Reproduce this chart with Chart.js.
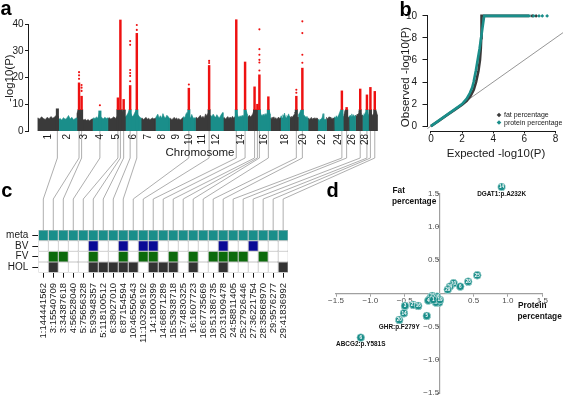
<!DOCTYPE html>
<html>
<head>
<meta charset="utf-8">
<script src="https://cdn.jsdelivr.net/npm/chart.js@4.4.1/dist/chart.umd.min.js"></script>
<style>
html,body{margin:0;padding:0;background:#ffffff;}
#wrap{position:relative;width:567px;height:399px;overflow:hidden;background:#fff;}
#wrap canvas{position:absolute;}
</style>
</head>
<body>
<div id="wrap">
<canvas id="conn" width="567" height="399" style="left:0px;top:0px;z-index:0;"></canvas>
<canvas id="ca" width="395" height="162" style="left:0px;top:0px;z-index:1;"></canvas>
<canvas id="cb" width="172" height="165" style="left:395px;top:0px;z-index:1;"></canvas>
<canvas id="cc" width="300" height="229" style="left:0px;top:170px;z-index:1;"></canvas>
<canvas id="cd" width="267" height="229" style="left:300px;top:170px;z-index:1;"></canvas>
</div>
<script>
const FONT = "'Liberation Sans', Arial, Helvetica, sans-serif";
Chart.defaults.font.family = FONT;
Chart.defaults.color = '#1a1a1a';
Chart.defaults.animation = false;
Chart.defaults.responsive = false;
Chart.defaults.maintainAspectRatio = false;
Chart.defaults.plugins.legend.display = false;
Chart.defaults.plugins.tooltip.enabled = false;
Chart.defaults.events = [];

const INK = '#1a1a1a';
const DARK = '#3a3a3a';
const TEAL = '#1a8e8a';
const RED = '#ee1111';
const BLUE = '#0a0a96';
const GREEN = '#0c6a0c';
const HOLC = '#333333';

/* ---------------- panel a : Manhattan ---------------- */
const chrLengthMb = [152,137,113,114,128,117,106,105,97,93,106,100,96,83,88,81,76,66,64,72,72,64,57,66,44,48,50,52,60];
const chrTickLabels = ['1','2','3','4','5','6','7','8','9','10','11','12','14','16','18','20','22','24','26','28'];
const chrProfile = [
 [4.9,4.5,5.3,4.7,4.3,5.1,4.6,5.4,4.8,5.2,6.0,5.4],
 [4.2,4.7,4.1,5.0,4.4,4.8,5.8,4.5,5.1,4.2,4.7,4.9],
 [6.5,8.0,7.6,5.5,4.5,4.1,4.4,3.9,4.3,3.8,4.2,4.5],
 [4.5,4.9,4.7,5.2,4.8,6.6,5.4,4.9,4.6,5.1,4.7,4.9],
 [4.6,5.0,4.5,4.9,5.3,4.7,5.5,6.4,7.6,7.8,6.5,7.9],
 [5.1,5.7,6.6,7.8,6.7,5.4,5.9,7.1,7.8,6.1,5.3,4.9],
 [4.5,4.9,4.3,4.7,5.1,4.4,4.8,4.2,4.6,4.9,4.5,4.7],
 [4.7,5.5,6.3,4.9,5.7,4.8,6.5,5.2,4.9,5.9,5.4,4.8],
 [4.4,4.8,4.2,4.6,5.1,4.5,4.9,4.3,4.7,4.1,4.5,4.9],
 [4.8,5.4,5.0,6.4,7.0,6.1,5.3,4.9,6.2,5.1,4.7,5.0],
 [4.6,5.1,4.7,5.3,5.9,4.9,5.5,4.8,6.4,5.7,6.7,7.4],
 [5.2,5.9,5.4,6.3,5.5,5.1,6.1,5.3,4.9,5.7,6.5,6.9],
 [4.7,5.1,4.5,4.9,5.4,4.7,5.2,4.8,5.5,4.9,5.3,5.0],
 [7.8,6.4,5.5,5.1,5.7,5.3,5.9,5.4,6.1,7.3,7.6,6.3],
 [4.9,5.5,5.9,5.2,5.7,6.4,7.5,6.1,6.7,7.6,5.5,5.1],
 [7.8,6.9,6.1,5.7,6.3,5.8,6.5,5.9,6.7,7.1,7.7,6.4],
 [4.9,4.5,5.1,4.7,5.3,4.6,5.0,4.4,4.8,5.2,4.7,4.9],
 [5.1,5.7,4.9,6.1,5.4,6.7,5.5,5.0,5.8,5.2,6.4,5.6],
 [4.9,5.3,4.7,5.5,5.1,5.7,6.2,7.1,6.4,5.4,4.9,5.2],
 [5.5,6.1,6.9,7.8,6.9,6.3,5.7,5.9,5.4,5.1,5.5,4.9],
 [4.5,4.9,4.3,4.7,5.1,4.4,4.8,4.6,5.0,4.5,4.9,4.7],
 [4.1,4.4,3.9,4.5,4.2,4.7,5.1,6.5,4.9,4.3,4.5,4.2],
 [4.7,5.1,4.5,4.9,5.3,4.8,5.2,4.6,5.0,4.4,4.8,4.9],
 [4.8,5.3,4.9,5.7,5.1,5.5,6.1,6.9,7.7,6.4,5.5,5.1],
 [4.9,5.5,6.1,6.7,7.7,5.9,5.3,5.7,5.1,5.4,4.9,5.2],
 [5.1,5.7,5.3,5.9,5.5,6.4,5.7,5.2,6.1,5.5,5.3,5.8],
 [5.3,5.9,5.5,6.3,5.7,6.5,7.3,7.7,6.7,6.1,5.5,5.9],
 [5.5,6.1,5.7,6.5,5.9,6.9,6.3,7.7,6.9,6.1,5.7,6.3],
 [5.9,7.3,7.7,6.5,6.1,5.7,6.3,6.9,6.5,7.7,7.1,6.1]
];
const snpLabels = ['1:144441562','3:15540709','3:34387618','4:56528040','5:75656328','5:93948357','5:118100512','6:38027010','6:87154594','10:46550543','11:103296192','14:1800399','14:66871289','15:53938718','15:74830325','16:1607723','16:67735669','19:51386735','20:31909478','24:58811405','25:27926446','27:36221754','28:35868970','29:9576277','29:41836992'];
const snpBaseTop = [8.3,8,8,7.5,8,8,8,8,8,8,8,8,8,8,8,8,8,8,8,8,8,8,8,8,8];
const snpPeakTop = [0,18,13,0,12.4,41.5,11.8,17,36.5,16,24.5,41.6,25.8,16.5,10,21,12.8,13,23.5,15,8.8,15.7,13.5,16.3,14.8];
const sparseSnp  = [1,1,1,2,2,2,3,7,7,7,7,7,7,8,8,9,10,10,15,15,15,15,15,15,17,17,18,18,18,18];
const sparseLogP = [19.5,20.8,22,15,16.2,17.2,9.6,18.6,20.6,21.7,22.8,32.2,33.6,37.8,39.6,17.4,25.4,26.2,22.6,25.6,26.6,28.5,30.6,38,14.3,15.4,25.5,28.5,36.6,41];
const threshold = 8;
const aYTicks = [0,10,20,30,40];

/* ---------------- panel b : QQ ---------------- */
const fatExp  = [0,0.5,1.0,1.5,2.0,2.3,2.55,2.75,2.9,3.05,3.15,3.2,3.23,3.25,6.3];
const fatObs  = [0,0.48,0.97,1.45,1.95,2.3,2.75,3.3,4.0,5.0,6.0,7.0,8.0,10,10];
const protExp = [0,0.5,1.0,1.5,2.0,2.3,2.5,2.65,2.74,2.88,3.0,3.12,3.22,3.32,3.42,6.4];
const protObs = [0,0.5,1.0,1.5,2.0,2.5,3.0,3.5,4.0,5.0,6.0,7.0,8.0,9.0,10,10];
const fatTailExp = [6.5,6.75];
const fatTailObs = [10,10];
const protTailExp = [6.6,6.94,7.15,7.46];
const protTailObs = [10,10,10,10];
const bXTicks = [0,2,4,6,8];
const bYTicks = [0,2,4,6,8,10];

/* ---------------- panel c : heat map ---------------- */
const heatRows = ['HOL','FV','BV','meta'];
const heatColors = [HOLC, GREEN, BLUE, TEAL];
const heatHOL  = [0,1,0,0,0,1,1,1,1,1,0,1,1,1,0,1,0,0,1,0,0,0,0,0,1];
const heatFV   = [0,1,1,0,0,1,0,0,1,0,1,1,0,1,0,1,0,1,1,1,1,0,1,0,0];
const heatBV   = [0,0,0,0,0,1,0,0,1,0,1,1,0,0,0,0,0,0,1,0,0,1,0,0,0];
const heatMeta = [1,1,1,1,1,1,1,1,1,1,1,1,1,1,1,1,1,1,1,1,1,1,1,1,1];

/* ---------------- panel d : effects ---------------- */
const dProtein = [0.908,0.554,0.423,0.21,0.307,0.155,0.125,-0.376,-0.304,-0.497,-0.512,-0.58,-0.18,-1.14,-0.06,-0.12,-0.02,0.0,-0.14,-0.03,-0.1,-0.047,-0.158,-0.086,0.012];
const dFat     = [1.596,0.27,0.174,0.15,0.10,0.10,0.055,-0.175,-0.19,-0.19,-0.30,-0.40,-0.34,-0.665,-0.08,-0.06,-0.12,-0.14,-0.09,-0.05,-0.04,-0.14,-0.11,-0.10,-0.10];
const dChr     = ['14','25','28','10','6','29','29','27','16','3','14','20','5','6','3','5','11','15','24','16','15','5','4','1','19'];
const dAnno    = ['DGAT1:p.A232K','','','','','','','','','','','GHR:p.F279Y','','ABCG2:p.Y581S','','','','','','','','','','',''];
const dTicks = [-1.5,-1,-0.5,0.5,1,1.5];

/* ---------------- helpers ---------------- */
function textPlugin(items){
  return {id:'txt', afterDraw(chart){
    const ctx = chart.ctx;
    items.forEach(it=>{
      ctx.save();
      ctx.font = (it.bold?'bold ':'') + it.size + 'px ' + FONT;
      ctx.fillStyle = it.color || INK;
      ctx.textAlign = it.align || 'left';
      ctx.textBaseline = it.base || 'alphabetic';
      ctx.translate(it.x, it.y);
      if (it.rot) ctx.rotate(it.rot*Math.PI/180);
      ctx.fillText(it.t, 0, 0);
      ctx.restore();
    });
  }};
}
function rAxisPlugin(ids, color){
  return {id:'raxis', afterDraw(chart){
    const ctx = chart.ctx;
    ctx.save(); ctx.strokeStyle = color; ctx.lineWidth = 1;
    ids.forEach(id=>{
      const s = chart.scales[id]; const t = s.ticks;
      const a = s.getPixelForValue(t[0].value), b = s.getPixelForValue(t[t.length-1].value);
      ctx.beginPath();
      if (s.isHorizontal()){ const y = Math.round(s.top)+0.5; ctx.moveTo(a,y); ctx.lineTo(b,y); }
      else { const x = Math.round(s.right)-0.5; ctx.moveTo(x,a); ctx.lineTo(x,b); }
      ctx.stroke();
    });
    ctx.restore();
  }};
}

/* ---------------- build panel a ---------------- */
const cumStart = []; let acc = 0;
chrLengthMb.forEach(l=>{ cumStart.push(acc); acc += l; });
const genomeEnd = acc;
const snpChr = snpLabels.map(s=>+s.split(':')[0]);
const snpMb  = snpLabels.map(s=>+s.split(':')[1]/1e6);
const snpX   = snpChr.map((c,i)=>cumStart[c-1] + snpMb[i]);
const chrColor = c => (c % 2 === 1) ? DARK : TEAL;

const aDatasets = [];
chrProfile.forEach((prof, ci)=>{
  const s = cumStart[ci], len = chrLengthMb[ci], n = prof.length;
  const pts = [{x:s, y:0}];
  prof.forEach((v,k)=>pts.push({x: s + k/(n-1)*len, y: v}));
  pts.push({x: s+len, y:0});
  aDatasets.push({type:'line', data:pts, fill:'origin', backgroundColor:chrColor(ci+1), borderColor:chrColor(ci+1), borderWidth:0.6, pointRadius:0, tension:0, order:4});
});
aDatasets.push({type:'bar', data: snpX.map((x,i)=>({x:x, y:[0, snpBaseTop[i]]})), backgroundColor: snpChr.map(chrColor), barThickness:2.4, grouped:false, order:3});
const redIdx = snpPeakTop.map((v,i)=>i).filter(i=>snpPeakTop[i] > threshold);
aDatasets.push({type:'bar', data: redIdx.map(i=>({x:snpX[i], y:[threshold, snpPeakTop[i]]})), backgroundColor: RED, barThickness:1.8, grouped:false, order:2, clip:false});
aDatasets.push({type:'scatter', data: sparseSnp.map((si,k)=>({x:snpX[si], y:sparseLogP[k]})), backgroundColor: RED, borderWidth:0, pointRadius:1.05, order:1, clip:false});

const chartA = new Chart(document.getElementById('ca'), {
  type:'line',
  data:{datasets:aDatasets},
  options:{
    layout:{padding:{top:24, right:7, left:0, bottom:0}},
    scales:{
      x:{type:'linear', min:-6, max:genomeEnd+13,
         grid:{display:false, drawTicks:false}, border:{display:false},
         afterBuildTicks: s=>{ s.ticks = chrTickLabels.map(l=>({value: cumStart[+l-1] + chrLengthMb[+l-1]/2})); },
         ticks:{autoSkip:false, minRotation:90, maxRotation:90, padding:3, font:{size:10}, color:INK, callback:(v,i)=>chrTickLabels[i]},
         afterFit: s=>{ s.height = 31; }},
      y:{type:'linear', min:0, max:40,
         afterBuildTicks: s=>{ s.ticks = aYTicks.map(v=>({value:v})); },
         ticks:{autoSkip:false, padding:1.5, font:{size:10}, color:INK},
         grid:{drawOnChartArea:false, drawTicks:true, tickLength:3, color:INK},
         border:{display:true, color:INK, width:1},
         afterFit: s=>{ s.width = 28; }}
    }
  },
  plugins:[textPlugin([
    {t:'a', x:0.5, y:15, size:20, bold:true, color:'#000'},
    {t:'Chromosome', x:200, y:153, size:11.5, align:'center', base:'middle'},
    {t:'-log10(P)', x:10, y:78, size:11.5, align:'center', base:'middle', rot:-90}
  ])]
});

/* ---------------- build panel b ---------------- */
const toPts = (xs, ys) => xs.map((x,i)=>({x:x, y:ys[i]}));
const legendB = {id:'legb', afterDraw(chart){
  const ctx = chart.ctx;
  [1,2].forEach((di,k)=>{
    const ds = chart.data.datasets[di];
    const x = 104, y = 115 + k*7.5;
    ctx.save();
    ctx.fillStyle = ds.borderColor;
    ctx.beginPath(); ctx.moveTo(x, y-2.3); ctx.lineTo(x+2.3, y); ctx.lineTo(x, y+2.3); ctx.lineTo(x-2.3, y); ctx.closePath(); ctx.fill();
    ctx.fillStyle = INK; ctx.font = '7px ' + FONT; ctx.textAlign='left'; ctx.textBaseline='middle';
    ctx.fillText(ds.label, x+5, y+0.3);
    ctx.restore();
  });
}};
const chartB = new Chart(document.getElementById('cb'), {
  type:'scatter',
  data:{datasets:[
    {label:'diag', data:[{x:-1,y:-1},{x:12,y:12}], showLine:true, borderColor:'#8a8a8a', borderWidth:0.9, pointRadius:0, order:5},
    {label:'fat percentage', data:toPts(fatExp, fatObs), showLine:true, borderColor:DARK, backgroundColor:DARK, borderWidth:2.6, pointRadius:0, order:3},
    {label:'protein percentage', data:toPts(protExp, protObs), showLine:true, borderColor:TEAL, backgroundColor:TEAL, borderWidth:2.6, pointRadius:0, order:2},
    {label:'fat tail', data:toPts(fatTailExp, fatTailObs), pointStyle:'rectRot', pointRadius:1.9, backgroundColor:DARK, borderWidth:0, order:1},
    {label:'protein tail', data:toPts(protTailExp, protTailObs), pointStyle:'rectRot', pointRadius:1.9, backgroundColor:TEAL, borderWidth:0, order:0}
  ]},
  options:{
    layout:{padding:{top:9.8, right:0, left:0, bottom:0}},
    scales:{
      x:{type:'linear', min:-0.22, max:8.48,
         afterBuildTicks: s=>{ s.ticks = bXTicks.map(v=>({value:v})); },
         ticks:{autoSkip:false, padding:0, font:{size:10}, color:INK},
         grid:{drawOnChartArea:false, tickLength:3, color:INK}, border:{display:false},
         afterFit: s=>{ s.height = 34.5; }},
      y:{type:'linear', min:-0.4, max:10.4,
         afterBuildTicks: s=>{ s.ticks = bYTicks.map(v=>({value:v})); },
         ticks:{autoSkip:false, padding:5.5, font:{size:10}, color:INK},
         grid:{drawOnChartArea:false, tickLength:5, color:INK}, border:{display:false},
         afterFit: s=>{ s.width = 32.5; }}
    }
  },
  plugins:[rAxisPlugin(['x','y'], INK), legendB, textPlugin([
    {t:'b', x:4.5, y:16, size:20, bold:true, color:'#000'},
    {t:'Observed -log10(P)', x:11, y:77, size:11.5, align:'center', base:'middle', rot:-90},
    {t:'Expected -log10(P)', x:101, y:154, size:11.5, align:'center', base:'middle'}
  ])]
});

/* ---------------- build panel c ---------------- */
const heatValues = [heatHOL, heatFV, heatBV, heatMeta];
const chartC = new Chart(document.getElementById('cc'), {
  type:'bar',
  data:{labels:snpLabels, datasets: heatValues.map((vals,r)=>({
    label: heatRows[r],
    data: vals.map(()=>1),
    backgroundColor: vals.map(v=> v ? heatColors[r] : '#ffffff'),
    borderColor:'#8c8c8c', borderWidth:0.5, borderSkipped:false,
    barPercentage:1, categoryPercentage:1, inflateAmount:0
  }))},
  options:{
    layout:{padding:{top:60, right:7.3, left:0, bottom:0}},
    scales:{
      x:{stacked:true, offset:true,
         grid:{display:true, offset:false, drawOnChartArea:false, drawTicks:true, tickLength:5, color:INK}, border:{display:false},
         ticks:{autoSkip:false, minRotation:90, maxRotation:90, padding:5.3, font:{size:9.5}, color:INK},
         afterFit: s=>{ s.height = 126.3; }},
      y:{stacked:true, min:0, max:4,
         afterBuildTicks: s=>{ s.ticks = heatRows.map((n,i)=>({value:i+0.5})); },
         ticks:{autoSkip:false, padding:4, font:{size:10}, color:INK, callback:(v,i)=>heatRows[i]},
         grid:{drawOnChartArea:false, tickLength:6, color:INK}, border:{display:false},
         afterFit: s=>{ s.width = 38.3; }}
    }
  },
  plugins:[textPlugin([{t:'c', x:1.2, y:27, size:20, bold:true, color:'#000'}])]
});

/* ---------------- build panel d ---------------- */
const fmtD = v => (v < 0 ? '\u2212' : '') + Math.abs(v).toFixed(1);
const dLabels = {id:'dlab', afterDatasetsDraw(chart){
  const ctx = chart.ctx;
  const meta = chart.getDatasetMeta(0);
  meta.data.forEach((el,i)=>{
    el.draw(ctx);
    ctx.save();
    ctx.fillStyle = '#ffffff'; ctx.font = 'bold 4.6px ' + FONT; ctx.textAlign='center'; ctx.textBaseline='middle';
    ctx.fillText(dChr[i], el.x, el.y+0.3);
    ctx.restore();
  });
  meta.data.forEach((el,i)=>{
    if (!dAnno[i]) return;
    ctx.save();
    ctx.fillStyle = '#111'; ctx.font = 'bold 6.4px ' + FONT; ctx.textAlign='center'; ctx.textBaseline='middle';
    ctx.fillText(dAnno[i], el.x, el.y+7);
    ctx.restore();
  });
}};
const chartD = new Chart(document.getElementById('cd'), {
  type:'scatter',
  data:{datasets:[{data: dProtein.map((x,i)=>({x:x, y:dFat[i]})), backgroundColor:TEAL, borderColor:'#e8f4f3', borderWidth:0.5, pointRadius:3.9, clip:false}]},
  options:{
    layout:{padding:{left:36, right:24.7, top:23.3, bottom:4.7}},
    scales:{
      x:{type:'linear', min:-1.5, max:1.5, position:{y:0},
         afterBuildTicks: s=>{ s.ticks = dTicks.map(v=>({value:v})); },
         ticks:{autoSkip:false, padding:0.5, font:{size:8}, color:'#4d4d4d', callback:v=>fmtD(v)},
         grid:{drawOnChartArea:false, tickLength:2.5, color:'#a0a0a0'}, border:{color:'#a0a0a0', width:1.2}},
      y:{type:'linear', min:-1.5, max:1.5, position:{x:0},
         afterBuildTicks: s=>{ s.ticks = dTicks.map(v=>({value:v})); },
         ticks:{autoSkip:false, padding:1, font:{size:8}, color:'#4d4d4d', callback:v=>fmtD(v)},
         grid:{drawOnChartArea:false, tickLength:2.5, color:'#a0a0a0'}, border:{color:'#a0a0a0', width:1.2}}
    }
  },
  plugins:[dLabels, textPlugin([
    {t:'d', x:26.5, y:27, size:20, bold:true, color:'#000'},
    {t:'Fat', x:92.5, y:21, size:8.3, bold:true, base:'middle', color:'#111'},
    {t:'percentage', x:92, y:32, size:8.3, bold:true, base:'middle', color:'#111'},
    {t:'Protein', x:218, y:136, size:8.3, bold:true, base:'middle', color:'#111'},
    {t:'percentage', x:217.5, y:146.5, size:8.3, bold:true, base:'middle', color:'#111'}
  ])]
});

/* ---------------- connectors a -> c ---------------- */
(function(){
  const cv = document.getElementById('conn');
  const ctx = cv.getContext('2d');
  const offA = {x:0, y:0}, offC = {x:0, y:170};
  ctx.strokeStyle = '#a5a5a5'; ctx.lineWidth = 0.9;
  snpLabels.forEach((s,i)=>{
    const xa = chartA.scales.x.getPixelForValue(snpX[i]) + offA.x;
    const ya = chartA.scales.y.getPixelForValue(0) + offA.y;
    const xc = chartC.scales.x.getPixelForValue(i) + offC.x;
    const yc = chartC.chartArea.top + offC.y;
    ctx.beginPath();
    ctx.moveTo(xa, ya); ctx.lineTo(xa, 158); ctx.lineTo(xc, 199); ctx.lineTo(xc, yc);
    ctx.stroke();
  });
})();
</script>
</body>
</html>
